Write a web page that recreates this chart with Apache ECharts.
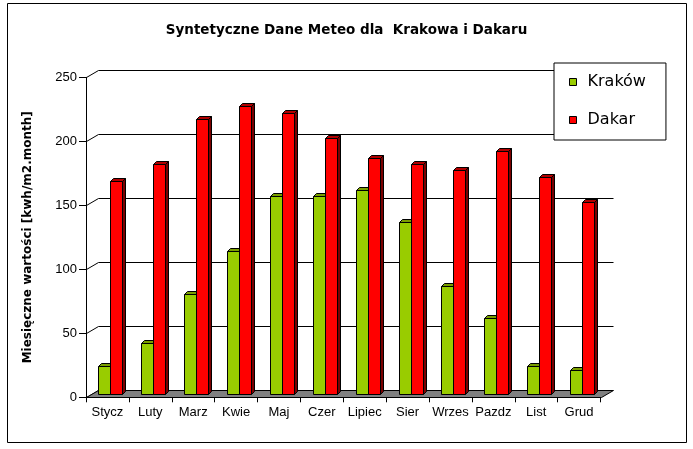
<!DOCTYPE html>
<html>
<head>
<meta charset="utf-8">
<script src="https://cdn.jsdelivr.net/npm/echarts@6/dist/echarts.min.js"></script>
<style>
html,body{margin:0;padding:0;background:#fff;}
#chart{width:693px;height:449px;}
</style>
</head>
<body>
<div id="chart"></div>
<script>
const categories = ['Stycz','Luty','Marz','Kwie','Maj','Czer','Lipiec','Sier','Wrzes','Pazdz','List','Grud'];
const krakow = [22, 40, 78, 112, 155, 155, 160, 135, 85, 60, 22, 19];
const dakar = [167, 180, 215, 225, 220, 200, 185, 180, 175, 190, 170, 150];
const yTicks = [0, 50, 100, 150, 200, 250];
const seriesNames = ['Kraków', 'Dakar'];
const titleText = 'Syntetyczne Dane Meteo dla  Krakowa i Dakaru';
const yAxisName = 'Miesięczne wartości [kwh/m2.month]';

const FONT = 'Liberation Sans, Arial, sans-serif';
const WIDE = 'DejaVu Sans, sans-serif';
const WALL_DX = 12, WALL_DY = -7;
const BAR_DX = 0, BAR_DY = -3, BAR_W = 12, DEPTH = 3;

const palette = [
  {front: '#99CC00', top: '#7A9E00', side: '#5E7A00'},
  {front: '#FF0000', top: '#B00000', side: '#7A0000'}
];

function px(v){ return Math.round(v) + 0.5; }

function barRenderer(si){
  return function(params, api){
    const i = api.value(0), v = api.value(1);
    const base = api.coord([i, 0]);
    const top = api.coord([i, v]);
    const c = base[0];
    const L = px(c + (si === 0 ? -9 : 3) + BAR_DX);
    const R = L + BAR_W;
    const yb = px(base[1] + BAR_DY);
    const yt = px(top[1] + BAR_DY);
    const col = palette[si];
    const st = {stroke: '#000', lineWidth: 1};
    return {
      type: 'group',
      children: [
        {type: 'polygon', shape: {points: [[R, yt], [R + DEPTH, yt - DEPTH], [R + DEPTH, yb - DEPTH], [R, yb]]},
         style: Object.assign({fill: col.side}, st)},
        {type: 'polygon', shape: {points: [[L, yt], [R, yt], [R + DEPTH, yt - DEPTH], [L + DEPTH, yt - DEPTH]]},
         style: Object.assign({fill: col.top}, st)},
        {type: 'rect', shape: {x: L, y: yt, width: BAR_W, height: yb - yt},
         style: Object.assign({fill: col.front}, st)}
      ]
    };
  };
}

function gridRenderer(params, api){
  const v = api.value(1);
  const cs = params.coordSys;
  const y = px(api.coord([0, v])[1]);
  const x0 = px(cs.x), x1 = px(cs.x + cs.width);
  const children = [
    {type: 'line', shape: {x1: x0, y1: y, x2: x0 + WALL_DX, y2: y + WALL_DY}, style: {stroke: '#000', lineWidth: 1}}
  ];
  if (v !== 0) {
    children.push({type: 'line', shape: {x1: x0 + WALL_DX, y1: y + WALL_DY, x2: x1 + WALL_DX, y2: y + WALL_DY},
      style: {stroke: '#000', lineWidth: 1}});
  }
  return {type: 'group', children: children};
}

function floorRenderer(params, api){
  const cs = params.coordSys;
  const y = px(api.coord([0, 0])[1]);
  const x0 = px(cs.x), x1 = px(cs.x + cs.width);
  return {
    type: 'polygon',
    shape: {points: [[x0, y], [x1, y], [x1 + WALL_DX, y + WALL_DY], [x0 + WALL_DX, y + WALL_DY]]},
    style: {fill: '#808080', stroke: '#000', lineWidth: 1}
  };
}

const chart = echarts.init(document.getElementById('chart'), null, {renderer: 'canvas'});
chart.setOption({
  animation: false,
  backgroundColor: '#fff',
  textStyle: {fontFamily: FONT},
  title: {
    text: titleText, left: 'center', top: 18,
    textStyle: {fontSize: 13.5, fontWeight: 'bold', color: '#000', fontFamily: WIDE}
  },
  graphic: [
    {type: 'rect', shape: {x: 7.5, y: 3.5, width: 679, height: 439}, style: {fill: 'none', stroke: '#000', lineWidth: 1}, z: 100}
  ],
  legend: {
    orient: 'vertical', left: 554, top: 63,
    data: seriesNames,
    backgroundColor: '#fff',
    borderColor: '#000', borderWidth: 1, borderRadius: 0,
    padding: [10, 20, 11, 15],
    itemWidth: 7, itemHeight: 7, itemGap: 20,
    icon: 'rect',
    itemStyle: {borderColor: '#000', borderWidth: 1},
    textStyle: {fontSize: 16, color: '#000', fontFamily: WIDE, lineHeight: 18, padding: [0, 0, 0, 6]},
    z: 50
  },
  grid: {left: 86, right: 92.5, top: 77.3, bottom: 51.7, containLabel: false},
  xAxis: {
    type: 'category', data: categories, boundaryGap: true,
    axisLine: {show: true, lineStyle: {color: '#000', width: 1}},
    axisTick: {show: true, interval: 0, length: 5, lineStyle: {color: '#000'}},
    axisLabel: {interval: 0, margin: 9, fontSize: 13, color: '#000', fontFamily: FONT},
    splitLine: {show: false}
  },
  yAxis: {
    type: 'value', min: 0, max: 250, interval: 50,
    name: yAxisName, nameLocation: 'middle', nameRotate: 90, nameGap: 52,
    nameTextStyle: {fontSize: 12, fontWeight: 'bold', color: '#000', fontFamily: WIDE},
    axisLine: {show: true, lineStyle: {color: '#000', width: 1}},
    axisTick: {show: true, length: 7, lineStyle: {color: '#000'}},
    axisLabel: {margin: 9, fontSize: 13, color: '#000', fontFamily: FONT},
    splitLine: {show: false}
  },
  series: [
    {type: 'custom', name: 'grid', silent: true, z: 1, renderItem: gridRenderer,
     data: yTicks.map(v => [0, v])},
    {type: 'custom', name: 'floor', silent: true, z: 2, renderItem: floorRenderer, data: [[0, 0]]},
    {type: 'custom', name: seriesNames[0], z: 3, itemStyle: {color: palette[0].front},
     renderItem: barRenderer(0), data: krakow.map((v, i) => [i, v])},
    {type: 'custom', name: seriesNames[1], z: 4, itemStyle: {color: palette[1].front},
     renderItem: barRenderer(1), data: dakar.map((v, i) => [i, v])}
  ]
});
</script>
</body>
</html>
